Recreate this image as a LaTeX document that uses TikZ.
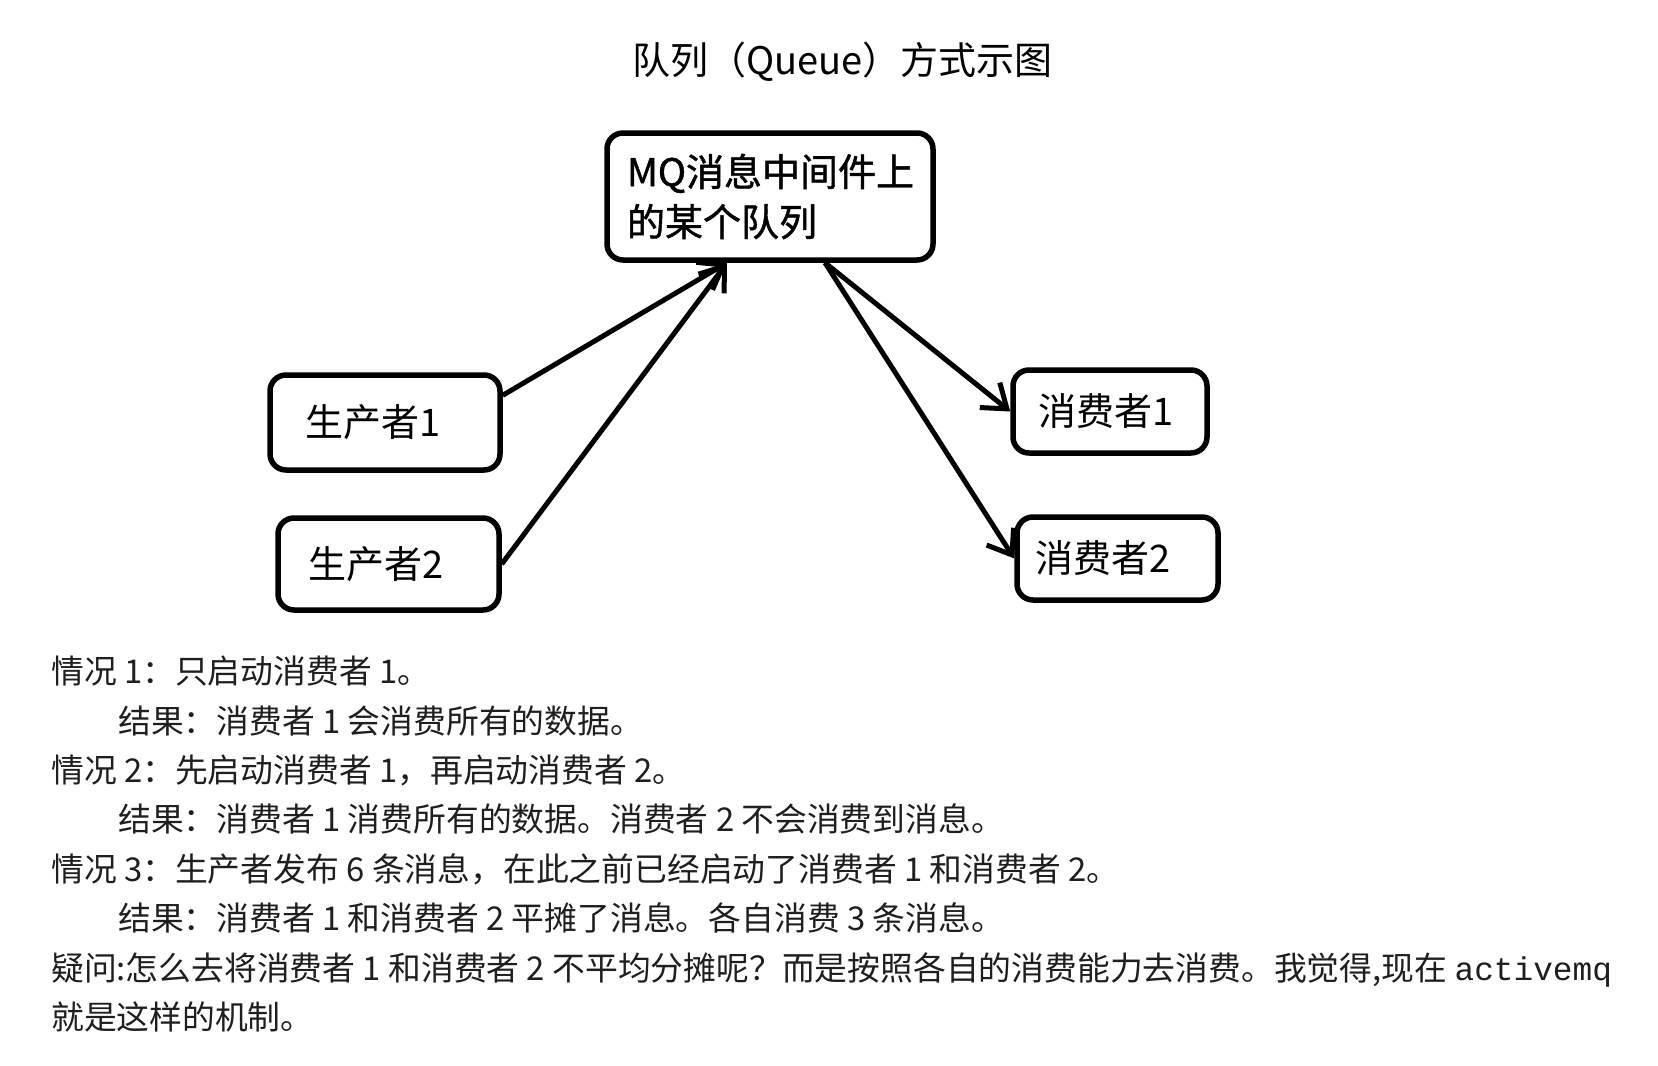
\documentclass[tikz,border=0pt]{standalone}
\usepackage{fontspec}
\setmainfont{Noto Sans CJK SC}
\newfontfamily\cjk{Noto Sans CJK SC}
\newfontfamily\cjkb[FakeBold=1.2]{Noto Sans CJK SC}
\newfontfamily\monof{Liberation Mono}
\usetikzlibrary{arrows.meta,calc}
\tikzset{
  box/.style={draw, line width=5.5pt, rounded corners=16pt, inner ysep=0pt, align=left,
    font=\cjk\fontsize{38}{43}\selectfont},
  arr/.style={line width=5pt, -{Straight Barb[length=22pt,width=32pt]}},
  para/.style={anchor=base west, inner sep=0pt, font=\cjk\fontsize{32.8}{40}\selectfont, text=black!88},
}
\begin{document}
\begin{tikzpicture}[x=1pt,y=-1pt]
\useasboundingbox (0,0) rectangle (1658,1066);
\fill[white] (0,0) rectangle (1658,1066);
\node[anchor=base, inner sep=0pt, font=\cjk\fontsize{38}{43}\selectfont] (title) at (842.5,74) {队列（Queue）方式示图};

\node[box, font=\cjkb\fontsize{38}{50}\selectfont, minimum width=326pt, minimum height=127pt, text width=286pt, inner xsep=20pt] (mq) at (770,196.5) {MQ消息中间件上\\的某个队列};
\node[box, minimum width=230pt, minimum height=95pt, text width=160pt, inner xsep=35pt] (p1) at (385,422.5) {生产者1};
\node[box, minimum width=221pt, minimum height=92pt, text width=161pt, inner xsep=30pt] (p2) at (388.5,564) {生产者2};
\node[box, minimum width=194pt, minimum height=83pt, text width=144pt, inner xsep=25pt] (c1) at (1110,411.5) {消费者1};
\node[box, minimum width=201pt, minimum height=83pt, text width=165pt, inner xsep=18pt] (c2) at (1117.5,558.5) {消费者2};

\coordinate (mqin) at ($(mq.south)+(-43pt,0pt)$);
\coordinate (mqout) at ($(mq.south)+(55pt,0pt)$);
\draw[arr] (p1.13) -- (mqin);
\draw[arr] (p2.east) -- (mqin);
\draw[arr] (mqout) -- (c1.west);
\draw[arr] (mqout) -- (c2.west);

\node[para] (l1) at (51,683) {情况 1：只启动消费者 1。};
\node[para] (l2) at (118,733) {结果：消费者 1 会消费所有的数据。};
\node[para] (l3) at (51,782) {情况 2：先启动消费者 1，再启动消费者 2。};
\node[para] (l4) at (118,831) {结果：消费者 1 消费所有的数据。消费者 2 不会消费到消息。};
\node[para] (l5) at (51,881) {情况 3：生产者发布 6 条消息，在此之前已经启动了消费者 1 和消费者 2。};
\node[para] (l6) at (118,930) {结果：消费者 1 和消费者 2 平摊了消息。各自消费 3 条消息。};
\node[para] (l7) at (51,980) {疑问:怎么去将消费者 1 和消费者 2 不平均分摊呢？而是按照各自的消费能力去消费。我觉得,现在 {\monof activemq}};
\node[para] (l8) at (51,1029) {就是这样的机制。};
\end{tikzpicture}
\end{document}
